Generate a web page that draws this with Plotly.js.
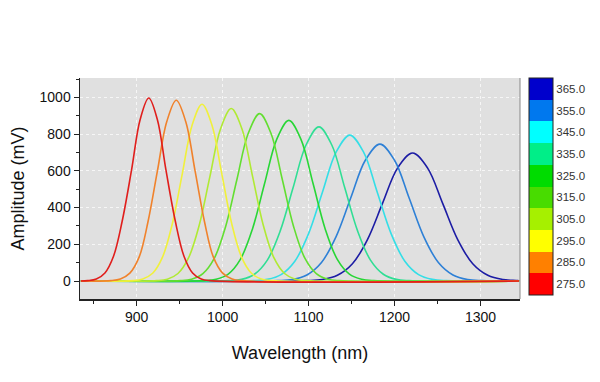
<!DOCTYPE html>
<html>
<head>
<meta charset="utf-8">
<script src="https://cdn.plot.ly/plotly-3.0.1.min.js"></script>
<style>html,body{margin:0;padding:0;background:#fff;}#chart{width:600px;height:382px;}</style>
</head>
<body>
<div id="chart"></div>
<script>
// Excitation values (colour bar categories)
const excitation = [275, 285, 295, 305, 315, 325, 335, 345, 355, 365];
const excitationLabels = ['275.0', '285.0', '295.0', '305.0', '315.0', '325.0', '335.0', '345.0', '355.0', '365.0'];

// Spectra: wavelength (nm) and amplitude (mV)
const wl275 = [835, 843, 853, 863, 873, 883, 894, 904, 914, 924, 934, 945, 955, 965, 975, 985, 1345];
const amp275 = [0, 2, 11, 44, 135, 324, 605, 880, 997, 880, 605, 324, 135, 44, 11, 2, 0];

const wl285 = [835, 870, 881, 892, 903, 913, 924, 935, 946, 957, 968, 979, 989, 1000, 1011, 1022, 1345];
const amp285 = [0, 2, 11, 43, 133, 320, 597, 869, 985, 869, 597, 320, 133, 43, 11, 2, 0];

const wl295 = [835, 895.5, 907, 918.5, 930, 941.5, 953, 964.5, 976, 987.5, 999, 1010.5, 1022, 1033.5, 1045, 1056.5, 1345];
const amp295 = [0, 2, 11, 42, 130, 313, 584, 850, 963, 850, 584, 313, 130, 42, 11, 2, 0];

const wl305 = [835, 923.2, 935.6, 948, 960.4, 972.8, 985.2, 997.6, 1010, 1022.4, 1034.8, 1047.2, 1059.6, 1072, 1084.4, 1096.8, 1345];
const amp305 = [0, 2, 10, 41, 127, 305, 570, 830, 940, 830, 570, 305, 127, 41, 10, 2, 0];

const wl315 = [835, 950.6, 963.8, 977, 990.2, 1003.4, 1016.6, 1029.8, 1043, 1056.2, 1069.4, 1082.6, 1095.8, 1109, 1122.2, 1135.4, 1345];
const amp315 = [0, 2, 10, 40, 123, 296, 553, 805, 912, 805, 553, 296, 123, 40, 10, 2, 0];

const wl325 = [835, 978.3, 992.4, 1006.5, 1020.6, 1034.7, 1048.8, 1062.9, 1077, 1091.1, 1105.2, 1119.3, 1133.4, 1147.5, 1161.6, 1175.7, 1345];
const amp325 = [0, 2, 10, 38, 118, 284, 531, 772, 875, 772, 531, 284, 118, 38, 10, 2, 0];

const wl335 = [835, 1007, 1022, 1037, 1052, 1067, 1082, 1097, 1112, 1127, 1142, 1157, 1172, 1187, 1202, 1217, 1345];
const amp335 = [0, 2, 9, 37, 114, 273, 509, 741, 840, 741, 509, 273, 114, 37, 9, 2, 0];

const wl345 = [835, 1036, 1052, 1068, 1084, 1100, 1116, 1132, 1148, 1164, 1180, 1196, 1212, 1228, 1244, 1260, 1345];
const amp345 = [0, 2, 9, 35, 108, 258, 482, 702, 795, 702, 482, 258, 108, 35, 9, 2, 0];

const wl355 = [835, 1064, 1081, 1098, 1115, 1132, 1149, 1166, 1183, 1200, 1217, 1234, 1251, 1268, 1285, 1302, 1345];
const amp355 = [0, 2, 8, 33, 101, 242, 452, 658, 746, 658, 452, 242, 101, 33, 8, 2, 0];

const wl365 = [835, 1098.5, 1116, 1133.5, 1151, 1168.5, 1186, 1203.5, 1221, 1238.5, 1256, 1273.5, 1291, 1308.5, 1326, 1343.5, 1345];
const amp365 = [0, 2, 8, 31, 94, 226, 423, 615, 697, 615, 423, 226, 94, 31, 8, 2, 0];

const xTickVals = [900, 1000, 1100, 1200, 1300];
const yTickVals = [0, 200, 400, 600, 800, 1000];

// Styles
const lineColors = ['#e01e1c', '#f0822c', '#f0f03c', '#b0ea34', '#62de30', '#28d636', '#30de94', '#34dee6', '#2e80d6', '#1c1ca4'];
const barColors = ['#ff0000', '#ff8000', '#ffff00', '#a6f000', '#48dc00', '#00dc00', '#00ee88', '#00ffff', '#0078ee', '#0000cc'];

const series = [
  [wl275, amp275], [wl285, amp285], [wl295, amp295], [wl305, amp305], [wl315, amp315],
  [wl325, amp325], [wl335, amp335], [wl345, amp345], [wl355, amp355], [wl365, amp365]
];

const traces = [];
for (let i = series.length - 1; i >= 0; i--) {
  traces.push({
    type: 'scatter', mode: 'lines',
    x: series[i][0], y: series[i][1],
    name: excitationLabels[i],
    line: {color: lineColors[i], width: 1.6, shape: 'spline', smoothing: 1},
    showlegend: false, hoverinfo: 'skip'
  });
}

const cmin = excitation[0] - 5, cmax = excitation[excitation.length - 1] + 5;
const n = barColors.length;
const colorscale = [];
for (let i = 0; i < n; i++) {
  colorscale.push([i / n, barColors[i]]);
  colorscale.push([(i + 1) / n, barColors[i]]);
}

traces.push({
  type: 'scatter', mode: 'markers',
  x: [0], y: [0],
  marker: {
    color: [excitation[0]], cmin: cmin, cmax: cmax, colorscale: colorscale,
    showscale: true, size: 1, opacity: 0,
    colorbar: {
      thickness: 24, thicknessmode: 'pixels',
      len: 217, lenmode: 'pixels',
      x: 1.0205, xanchor: 'left', xpad: 0,
      y: 1, yanchor: 'top', ypad: 0,
      outlinewidth: 1, outlinecolor: '#222',
      borderwidth: 0,
      tickmode: 'array', tickvals: excitation, ticktext: excitationLabels,
      ticks: '', ticklen: 0,
      tickfont: {family: 'Liberation Sans, Arial, sans-serif', size: 11.5, color: '#333'}
    }
  },
  showlegend: false, hoverinfo: 'skip'
});

const layout = {
  width: 600, height: 382,
  margin: {l: 80, r: 80, t: 78, b: 83},
  paper_bgcolor: '#ffffff',
  plot_bgcolor: '#e0e0e0',
  font: {family: 'Liberation Sans, Arial, sans-serif', color: '#111'},
  xaxis: {
    range: [834, 1346],
    tickmode: 'array', tickvals: xTickVals,
    ticks: 'outside', ticklen: 5, tickcolor: '#222', tickwidth: 1,
    minor: {dtick: 50, tick0: 850, ticks: 'outside', ticklen: 3, tickcolor: '#222', showgrid: false},
    showgrid: true, gridcolor: '#f6f6f6', griddash: 'dot', gridwidth: 1,
    showline: true, linecolor: '#222', linewidth: 1.5,
    zeroline: false,
    tickfont: {size: 14, color: '#111'},
    title: {text: 'Wavelength (nm)', font: {size: 18, color: '#111'}, standoff: 22}
  },
  yaxis: {
    range: [-98, 1106],
    tickmode: 'array', tickvals: yTickVals,
    ticks: 'outside', ticklen: 5, tickcolor: '#222', tickwidth: 1,
    minor: {dtick: 100, tick0: 0, ticks: 'outside', ticklen: 3, tickcolor: '#222', showgrid: false},
    showgrid: true, gridcolor: '#f6f6f6', griddash: 'dot', gridwidth: 1,
    showline: true, linecolor: '#222', linewidth: 1.5,
    zeroline: false,
    tickfont: {size: 14, color: '#111'},
    title: {text: 'Amplitude (mV)', font: {size: 18, color: '#111'}, standoff: 10}
  },
  shapes: [
    {type: 'line', xref: 'paper', yref: 'paper', x0: 1, x1: 1, y0: 0, y1: 1, line: {color: '#888', width: 1}}
  ]
};

Plotly.newPlot('chart', traces, layout, {displayModeBar: false, staticPlot: true});
</script>
</body>
</html>
